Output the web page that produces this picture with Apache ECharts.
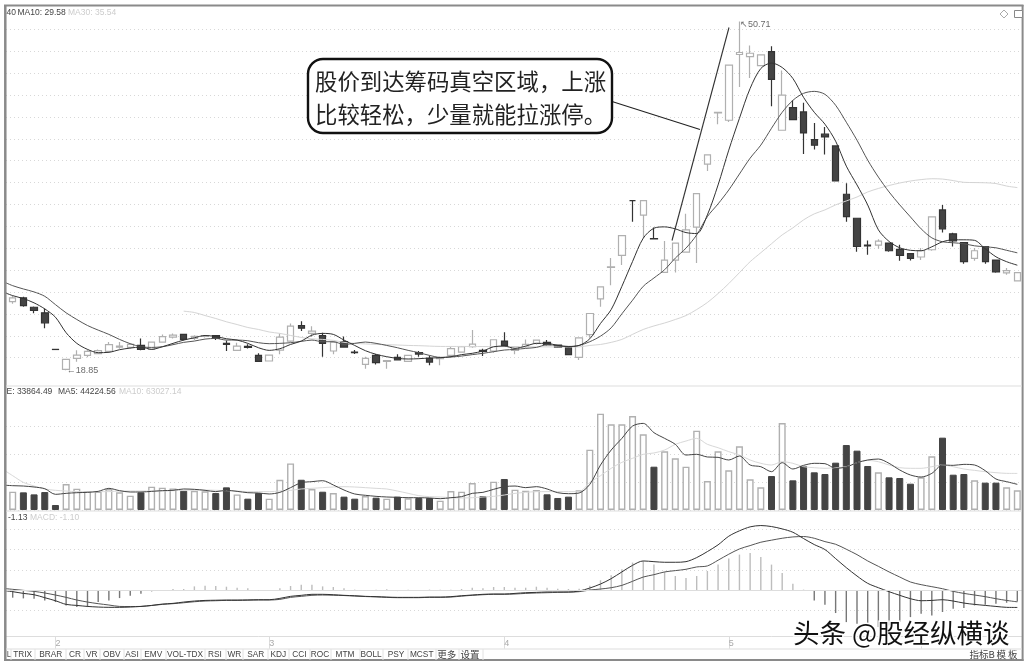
<!DOCTYPE html>
<html lang="zh">
<head>
<meta charset="UTF-8">
<title>K线图</title>
<style>
html,body{margin:0;padding:0;background:#fff}
#main{width:1028px;height:665px}
</style>
</head>
<body>
<div id="main"></div>
<script src="https://cdn.jsdelivr.net/npm/echarts@6/dist/echarts.min.js"></script>
<script>
// 日K数据，第一格在画面左边框之外，只有均线
var opens = [null,25.13,25.46,24.61,24.10,20.76,18.94,19.94,20.21,20.37,20.58,20.97,20.94,21.12,20.76,21.43,21.88,22.13,21.76,21.94,22.01,
21.31,20.67,21.03,20.21,19.70,20.70,21.52,22.94,22.22,22.03,20.61,21.46,20.51,19.39,20.21,19.67,20.03,19.67,20.46,19.94,
19.91,20.21,20.51,21.00,20.67,20.61,21.52,20.67,21.00,21.31,21.40,21.15,21.00,20.03,22.10,25.37,28.25,29.34,34.35,33.02,
30.89,27.79,28.92,29.65,31.93,37.69,42.37,41.69,47.70,47.51,46.69,47.96,40.78,42.85,42.45,39.93,40.42,39.35,34.93,32.74,
30.29,30.29,30.47,29.89,29.50,29.20,29.86,33.50,31.32,30.52,29.07,30.16,28.92,27.74,27.01];
var closes = [null,25.46,24.76,24.31,23.19,20.75,19.85,20.24,20.58,20.64,21.19,21.06,21.21,20.76,21.43,21.92,22.06,21.67,21.94,22.01,21.76,
21.21,21.06,20.94,19.67,20.24,21.88,22.88,22.70,22.43,21.31,21.43,20.97,20.46,19.94,19.55,19.73,19.79,20.21,20.33,19.60,
20.00,20.82,21.00,21.24,20.58,21.64,21.12,21.00,21.21,21.61,21.19,20.94,20.28,21.82,24.04,26.47,28.31,31.16,34.35,34.35,
30.86,28.92,30.47,31.68,34.98,38.53,42.42,46.72,47.88,47.81,47.67,45.42,43.99,41.75,40.53,39.41,40.17,36.14,32.89,30.16,
30.22,30.65,29.77,29.34,29.07,29.77,32.86,31.77,30.68,28.77,29.77,28.77,27.83,27.95,27.77];
var lows = [null,24.92,24.65,24.06,22.70,20.75,18.85,19.64,20.03,20.31,20.46,20.82,20.82,20.67,20.70,21.37,21.76,21.58,21.61,21.85,21.61,
20.61,20.61,20.85,19.67,19.70,20.31,21.43,22.43,21.88,20.09,20.31,20.94,20.33,19.00,19.39,19.00,19.79,19.67,20.09,19.30,
19.30,20.09,20.49,20.91,20.15,20.46,21.00,20.31,20.91,21.21,21.12,20.91,20.24,19.79,21.82,24.65,26.61,28.47,32.43,30.92,
30.86,27.79,27.79,29.65,28.65,37.05,41.33,41.54,44.72,45.54,46.63,42.96,40.78,41.75,38.60,39.02,38.57,36.14,32.43,29.68,
29.40,29.95,29.68,28.86,28.89,28.92,29.77,31.43,30.16,28.59,28.86,28.59,27.77,27.58,27.01];
var highs = [null,25.67,25.56,24.67,24.49,20.76,19.85,20.67,20.76,20.76,21.43,21.43,21.31,21.76,21.43,22.13,22.22,22.19,22.06,22.06,22.03,
21.58,21.37,21.24,20.40,20.24,22.22,23.13,23.34,22.88,22.28,21.52,21.94,20.70,20.09,20.33,19.79,20.31,20.21,20.61,20.21,
20.09,21.00,21.03,22.52,20.82,21.67,22.33,21.06,21.67,21.67,21.61,21.19,21.06,21.82,24.04,26.47,29.10,31.16,34.35,34.35,
31.89,30.65,30.47,33.14,34.98,38.53,42.42,46.72,50.71,48.51,47.70,48.45,46.24,43.51,43.30,41.44,41.08,39.41,35.93,32.74,
30.71,30.83,30.50,30.31,29.50,30.01,32.86,33.96,31.41,30.52,30.01,30.16,28.92,28.19,27.77];
var ma5 = [26.05,25.67,25.40,25.01,24.46,23.70,22.28,21.31,20.76,20.46,20.49,20.73,20.88,20.97,20.76,21.00,21.31,21.61,21.82,22.03,21.94,
21.73,21.61,21.31,20.91,20.67,20.82,21.21,21.52,22.06,22.22,22.13,21.61,21.12,20.64,20.31,20.09,19.94,19.88,19.91,19.97,
20.00,20.09,20.28,20.40,20.61,21.00,21.06,20.85,21.06,21.31,21.31,21.12,21.03,21.12,21.73,23.13,24.40,26.52,28.79,30.92,
31.83,31.95,31.77,31.43,31.34,33.05,35.78,38.96,41.87,44.60,46.42,46.92,46.51,45.51,43.78,42.42,41.33,39.78,37.50,35.78,
33.96,31.68,30.62,30.04,29.81,29.77,30.13,30.59,30.77,30.77,30.72,29.95,29.22,28.77,28.45];
var ma10 = [27.00,26.58,26.28,26.01,25.61,24.85,24.10,23.49,22.94,22.52,22.13,21.67,21.28,21.00,20.94,21.00,21.19,21.40,21.52,21.70,21.76,
21.61,21.61,21.55,21.37,21.28,21.31,21.37,21.49,21.61,21.46,21.46,21.21,21.31,21.43,21.31,21.12,20.91,20.67,20.46,20.21,
20.03,20.06,20.15,20.28,20.40,20.55,20.70,20.76,20.85,20.94,21.19,21.10,21.00,21.12,21.46,21.97,22.73,24.01,25.25,26.52,
27.28,28.04,29.10,30.01,31.22,32.89,34.05,35.32,36.78,38.23,39.42,40.96,42.42,43.51,44.15,44.33,44.06,43.06,41.51,39.87,
38.05,36.50,35.14,33.96,32.86,31.77,30.95,30.59,30.50,30.41,30.22,30.13,30.04,29.81,29.58];
var ma30 = [null,null,null,null,null,null,null,null,null,null,null,null,null,null,null,null,null,24.25,24.13,23.85,23.58,
23.28,23.03,22.76,22.58,22.35,22.22,22.03,21.85,21.72,21.67,21.58,21.40,21.31,21.26,21.21,21.19,21.16,21.12,21.10,21.06,
21.03,21.03,21.03,21.02,21.02,21.01,21.01,21.00,21.00,20.99,20.99,20.98,20.98,20.99,21.12,21.21,21.40,21.67,22.13,22.58,
22.90,23.17,23.49,23.85,24.40,25.04,25.86,26.77,27.77,28.77,29.59,30.41,31.22,31.86,32.59,33.14,33.50,33.96,34.32,34.68,
35.14,35.46,35.73,35.96,36.14,36.27,36.35,36.32,36.18,36.02,36.00,35.98,35.91,35.68,35.54];

// 成交量
var volumes = [null,31500,30400,26900,30900,8600,44700,36700,32700,31500,36100,30400,24600,30400,40100,38400,37200,33200,33200,32100,29200,
39000,26900,19500,29200,19500,52100,80200,52100,36100,31500,29200,23000,19500,24100,21200,19500,23000,20100,20700,20700,
16100,32700,31600,46500,24100,48800,53400,35000,33300,34400,27000,20700,23000,33900,103900,165900,147500,147500,161900,130300,
74600,101000,89000,74600,136600,49900,101000,68300,109600,52800,39000,58500,149800,51100,75800,64900,62000,81500,111900,102200,
75800,64900,56300,55100,45300,56300,92400,124600,60800,62000,51100,47100,47100,39000,33864];
var volMa5 = [43000,41900,41300,39600,36700,27000,28700,29800,30400,32100,37300,33300,31000,31000,32100,33300,33900,36200,35600,33900,31600,
33900,32100,29800,29300,27600,30400,38500,47100,48800,50500,43100,34400,27600,25300,23500,22400,21800,21200,21200,20700,
19500,21200,23000,28700,30400,35600,40200,41300,38500,40200,36200,29800,28100,29300,44200,77500,103300,123400,144600,149200,
133200,123400,113100,94700,95900,91300,90700,86100,93000,77500,74600,66000,81500,70600,76900,80400,79800,71800,74000,81500,
86100,87800,80400,68900,60300,56800,63100,77500,76900,78600,77500,67700,53400,48800,44224];
var volMa10 = [71000,59100,47600,41300,36200,33900,32700,31600,31600,31600,31600,32700,32700,32700,32700,32700,33300,33900,34400,34400,33900,
33300,32700,31600,31600,31600,32700,33900,36200,37300,38500,39600,40200,39600,38500,37300,36200,32700,28700,24700,23000,
22400,21200,20700,21200,22400,23500,25800,28700,30400,31600,31600,31600,31600,31600,47600,59100,71800,82100,89000,95900,
98200,103300,113100,118800,123400,113100,107300,100500,94700,86100,80400,77500,83200,80400,74600,72900,71800,72900,74600,81500,
85500,83200,77500,72900,71800,71800,74600,77500,74600,70600,68300,66000,64300,63100,63027];

// MACD
var macdBars = [null,-0.72,-0.79,-0.82,-0.99,-1.15,-1.48,-1.64,-1.64,-1.15,-0.99,-0.76,-0.53,-0.33,-0.10,-0.02,0.13,0.13,0.39,0.46,0.43,
0.36,0.26,0.20,-0.02,0.03,0.20,0.43,0.56,0.56,0.39,0.33,0.20,0.07,0,0.07,0.10,-0.07,0.07,0,0.07,
0.07,0.07,0.13,0.26,0.20,0.33,0.33,0.26,0.26,0.36,0.26,0.16,0.13,0.16,0.46,0.99,1.48,2.07,2.73,2.89,
2.53,1.81,1.41,1.22,1.41,1.90,2.53,3.12,3.51,3.68,3.28,2.53,1.71,0.66,0.07,-0.99,-1.41,-2.23,-3.12,-3.28,
-3.55,-3.61,-3.45,-3.12,-2.63,-2.30,-2.46,-2.13,-1.81,-1.74,-1.48,-1.41,-1.31,-1.22,-1.10];
var dif = [0.00,-0.13,-0.30,-0.43,-0.72,-1.02,-1.38,-1.48,-1.58,-1.64,-1.67,-1.67,-1.64,-1.58,-1.48,-1.35,-1.28,-1.15,-1.05,-0.99,-0.97,
-0.95,-0.95,-0.94,-0.92,-0.92,-0.79,-0.59,-0.49,-0.39,-0.39,-0.43,-0.49,-0.53,-0.59,-0.62,-0.66,-0.69,-0.69,-0.69,-0.66,
-0.66,-0.62,-0.53,-0.46,-0.39,-0.36,-0.36,-0.30,-0.23,-0.20,-0.16,-0.16,-0.16,-0.07,0.23,0.62,1.15,1.81,2.46,2.89,
2.82,2.76,2.76,2.82,3.22,3.81,4.47,5.32,5.85,6.24,6.37,6.27,6.04,5.71,5.09,4.50,4.01,3.12,2.23,1.41,
0.69,0.26,-0.13,-0.49,-0.82,-1.02,-0.99,-0.92,-1.05,-1.25,-1.38,-1.48,-1.58,-1.67,-1.68];
var dea = [0.20,0.10,0,-0.10,-0.26,-0.46,-0.69,-0.95,-1.15,-1.31,-1.44,-1.58,-1.59,-1.58,-1.49,-1.38,-1.31,-1.22,-1.12,-1.05,-1.02,
-0.99,-0.99,-0.97,-0.95,-0.95,-0.89,-0.69,-0.59,-0.49,-0.46,-0.48,-0.51,-0.56,-0.61,-0.64,-0.69,-0.72,-0.72,-0.72,-0.69,
-0.69,-0.66,-0.57,-0.49,-0.43,-0.39,-0.39,-0.36,-0.30,-0.26,-0.23,-0.20,-0.18,-0.13,0.03,0.13,0.26,0.49,0.89,1.31,
1.54,1.81,1.94,2.07,2.30,2.40,2.96,3.55,4.07,4.40,4.73,4.93,5.12,5.25,5.29,5.12,4.79,4.53,4.04,3.51,
2.89,2.36,1.81,1.31,0.82,0.56,0.36,0.16,-0.10,-0.30,-0.46,-0.62,-0.82,-0.99,-1.13];

// 月份刻度
var monthIndex = [5,25,47,68,86];
var monthNames = ['2','3','4','5','6'];

// 最低最高价标注
var lowIndex = 6, highIndex = 69;

// 底部指标页签
var tabNames = ['TRIX','BRAR','CR','VR','OBV','ASI','EMV','VOL-TDX','RSI','WR','SAR','KDJ','CCI','ROC','MTM','BOLL','PSY','MCST','更多','设置'];
var tabCenters = [22.7,50.7,75,91.7,111.7,132,153.3,185,215,234.3,255.7,278.3,299.3,320,345,371,396,421.7,446.7,470];
var tabEdges = [11,35,66,84,100,124,141,166,205,226,243,268,289,310,331,360,383,408,436,459,483];

var calloutLines = ['股价到达筹码真空区域，上涨','比较轻松，少量就能拉涨停。'];

var BLACK = '#444444', GRAY = '#b0b0b0', GRID = '#d8d8d8', FRAME = '#8a8a8a';
var FONT = 'Arial, "Liberation Sans", sans-serif';
var CJK = '"Noto Sans CJK SC", sans-serif';

var categories = [], candleData = [], volumeData = [], macdData = [];
for (var i = 0; i < opens.length; i++) {
    categories.push(String(i));
    candleData.push(opens[i] === null ? ['-', '-', '-', '-'] : [opens[i], closes[i], lows[i], highs[i]]);
    var falling = closes[i] < opens[i];
    volumeData.push({
        value: volumes[i],
        itemStyle: falling ? {color: BLACK, borderColor: BLACK, borderWidth: 1}
                           : {color: '#ffffff', borderColor: GRAY, borderWidth: 1.4}
    });
    macdData.push({
        value: macdBars[i],
        itemStyle: {color: macdBars[i] >= 0 ? '#bdbdbd' : '#777777'}
    });
}
// 多一格空位，让网格线画到右边框
categories.push(String(opens.length));

function lineSeries(name, data, color, width, xi, yi) {
    return {
        name: name, type: 'line', data: data, xAxisIndex: xi, yAxisIndex: yi,
        symbol: 'none', smooth: 0.3, clip: false, silent: true,
        lineStyle: {color: color, width: width}
    };
}

function panelAxis(gridIndex, min, max, interval) {
    return {
        type: 'value', gridIndex: gridIndex, min: min, max: max, interval: interval,
        axisLine: {show: false}, axisTick: {show: false}, axisLabel: {show: false},
        splitLine: {show: true, lineStyle: {color: GRID, type: [1, 3], width: 1}}
    };
}

function isMonth(index) {
    return monthIndex.indexOf(index) >= 0;
}

var graphics = [];
function addText(text, x, y, color, font, align) {
    graphics.push({type: 'text', z: 50, style: {text: text, x: x, y: y, fill: color, font: font,
        textAlign: align || 'left', textVerticalAlign: 'middle'}});
}
function addLine(x1, y1, x2, y2, color, width) {
    graphics.push({type: 'line', z: 50, shape: {x1: x1, y1: y1, x2: x2, y2: y2},
        style: {stroke: color, lineWidth: width}});
}

// 遮住框外的线
graphics.push({type: 'rect', z: 49, shape: {x: 0, y: 0, width: 4.5, height: 665}, style: {fill: '#ffffff'}});
graphics.push({type: 'rect', z: 49, shape: {x: 1023, y: 0, width: 5, height: 665}, style: {fill: '#ffffff'}});

// 外框和分隔线
addLine(4, 5.5, 1023.5, 5.5, FRAME, 2);
addLine(5.3, 5, 5.3, 661, FRAME, 2.5);
addLine(1022.6, 5, 1022.6, 661, FRAME, 2);
addLine(4, 660, 1023.5, 660, FRAME, 2);
addLine(6, 386, 1022, 386, '#dddddd', 1);
addLine(6, 511, 1022, 511, '#dddddd', 1);
addLine(6, 649, 1022, 649, '#dddddd', 1);

// 各区图例
var LEGEND = '8.5px ' + FONT;
addText('40', 6.5, 12.3, '#444444', LEGEND);
addText('MA10: 29.58', 17.5, 12.3, '#444444', LEGEND);
addText('MA30: 35.54', 68, 12.3, '#cccccc', LEGEND);
addText('E: 33864.49', 6.5, 392, '#444444', LEGEND);
addText('MA5: 44224.56', 58, 392, '#444444', LEGEND);
addText('MA10: 63027.14', 119, 392, '#cccccc', LEGEND);
addText('-1.13', 8, 517.7, '#444444', LEGEND);
addText('MACD: -1.10', 30, 517.7, '#cccccc', LEGEND);

// 页签
addText('L', 6.8, 654.5, '#555555', '8.3px ' + FONT);
tabNames.forEach(function (name, k) {
    addText(name, tabCenters[k], 654.5, '#444444', (k >= 18 ? '9.5px ' + CJK : '8.3px ' + FONT), 'center');
});
tabEdges.forEach(function (x) {
    addLine(x, 649, x, 660, '#e2e2e2', 1);
});
addText('指标B', 982, 654.5, '#444444', '9.5px ' + CJK, 'center');
addText('模 板', 1007, 654.5, '#444444', '9.5px ' + CJK, 'center');

// 右上角图标
graphics.push({type: 'polygon', z: 50, shape: {points: [[1004, 10], [1008, 14], [1004, 18], [1000, 14]]},
    style: {fill: '#ffffff', stroke: '#aaaaaa', lineWidth: 1}});
graphics.push({type: 'rect', z: 50, shape: {x: 1014.5, y: 10.5, width: 8, height: 7},
    style: {fill: '#ffffff', stroke: '#888888', lineWidth: 1}});

// 趋势线和文字框
addLine(672, 240.5, 729, 27.5, '#333333', 1.1);
addLine(612, 101.5, 700, 129.5, '#222222', 1.1);
graphics.push({type: 'rect', z: 51, shape: {x: 308, y: 59, width: 304, height: 74, r: 15},
    style: {fill: '#ffffff', stroke: '#111111', lineWidth: 2.4}});
addText(calloutLines[0], 315, 81, '#222222', '22.4px ' + CJK);
addText(calloutLines[1], 315, 114, '#222222', '22.4px ' + CJK);
graphics[graphics.length - 1].z = 52;
graphics[graphics.length - 2].z = 52;

// 水印
graphics.push({type: 'text', z: 60, style: {text: '头条 @股经纵横谈', x: 793, y: 633, fill: '#111111',
    font: '26.5px ' + CJK, textVerticalAlign: 'middle', stroke: '#ffffff', lineWidth: 3}});

var option = {
    backgroundColor: '#ffffff',
    animation: false,
    textStyle: {fontFamily: FONT},
    graphic: graphics,
    grid: [
        {left: 2, width: 1026.7, top: 29.3, height: 328.4},
        {left: 2, width: 1026.7, top: 426.4, height: 83.6},
        {left: 2, width: 1026.7, top: 529.3, height: 81.4}
    ],
    xAxis: [
        {type: 'category', gridIndex: 0, data: categories, boundaryGap: false, show: false},
        {type: 'category', gridIndex: 1, data: categories, boundaryGap: false, show: false},
        {
            type: 'category', gridIndex: 2, data: categories, boundaryGap: false, offset: 26,
            axisLine: {show: true, onZero: false, lineStyle: {color: '#dddddd'}},
            axisTick: {show: true, length: 12, interval: isMonth, lineStyle: {color: '#dddddd'}},
            axisLabel: {
                show: true, interval: isMonth, margin: 2, align: 'left', color: '#aaaaaa', fontSize: 9,
                formatter: function (v, index) {
                    return monthNames[monthIndex.indexOf(index)] || '';
                }
            },
            splitLine: {show: false}
        }
    ],
    yAxis: [
        panelAxis(0, 20, 50, 2),
        panelAxis(1, 0, 144000, 48000),
        panelAxis(2, -2, 6, 2)
    ],
    series: [
        {
            name: 'K', type: 'candlestick', xAxisIndex: 0, yAxisIndex: 0, data: candleData,
            barWidth: 7, clip: false, silent: true,
            itemStyle: {
                color: '#ffffff', color0: BLACK,
                borderColor: GRAY, borderColor0: '#333333', borderColorDoji: '#333333', borderWidth: 1.2
            }
        },
        {
            name: 'extreme', type: 'scatter', xAxisIndex: 0, yAxisIndex: 0, clip: false, silent: true,
            symbolSize: 1, itemStyle: {color: 'rgba(0,0,0,0)'},
            label: {show: true, position: 'right', distance: 0, color: '#444444', fontSize: 9, fontFamily: FONT},
            data: [
                {value: [lowIndex, lows[lowIndex]], label: {formatter: '←' + lows[lowIndex]}},
                {value: [highIndex, highs[highIndex]], label: {formatter: '↖' + highs[highIndex], offset: [0, 3]}}
            ]
        },
        lineSeries('MA30', ma30, '#d4d4d4', 1, 0, 0),
        lineSeries('MA10', ma10, '#555555', 1, 0, 0),
        lineSeries('MA5', ma5, '#333333', 1, 0, 0),
        {name: 'VOL', type: 'bar', xAxisIndex: 1, yAxisIndex: 1, data: volumeData, barWidth: 7, clip: false, silent: true},
        lineSeries('VMA10', volMa10, '#d8d8d8', 1, 1, 1),
        lineSeries('VMA5', volMa5, '#444444', 1, 1, 1),
        {
            name: 'MACD', type: 'bar', xAxisIndex: 2, yAxisIndex: 2, data: macdData, barWidth: 1.4, clip: false, silent: true,
            markLine: {
                symbol: 'none', silent: true, label: {show: false},
                lineStyle: {color: '#dddddd', type: 'solid', width: 1},
                data: [{yAxis: 0}]
            }
        },
        lineSeries('DEA', dea, '#555555', 1, 2, 2),
        lineSeries('DIF', dif, '#333333', 1, 2, 2)
    ]
};

var chart = echarts.init(document.getElementById('main'));
chart.setOption(option);
</script>
</body>
</html>
